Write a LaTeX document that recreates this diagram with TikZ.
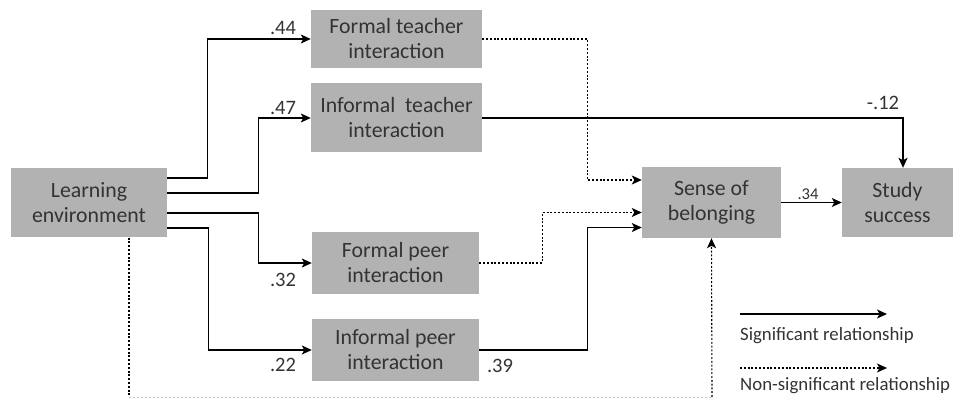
\documentclass[tikz,border=0pt]{standalone}
\usepackage{fontspec}
\setmainfont{Carlito}
\usetikzlibrary{arrows.meta}
\definecolor{boxgray}{HTML}{B2B2B2}
\definecolor{txtgray}{HTML}{333333}
\definecolor{lightdot}{HTML}{C8C8C8}
\begin{document}
\begin{tikzpicture}[x=1pt,y=-1pt,
  box/.style={fill=boxgray, draw=none, inner sep=0pt, align=center, text=txtgray,
    font=\fontsize{21.8}{25}\selectfont},
  lbl/.style={inner sep=0pt, text=txtgray, font=\fontsize{20.5}{23}\selectfont},
  leg/.style={inner sep=0pt, text=txtgray, anchor=west, font=\fontsize{18.8}{21}\selectfont},
  tip/.style={-{Stealth[length=10pt,width=9pt,inset=2.5pt]}},
  sig/.style={line width=1.1pt, black, tip},
  nsig/.style={line width=1.1pt, black, dash pattern=on 2pt off 1.8pt, tip},
  nsline/.style={line width=1.1pt, black, dash pattern=on 2pt off 1.8pt},
  nsfaint/.style={line width=1pt, lightdot, dash pattern=on 2pt off 2pt}]
\useasboundingbox (0,0) rectangle (954,398);

\node[box, minimum width=156pt, minimum height=69pt] (le) at (89,203) {Learning\\environment};
\node[box, minimum width=171pt, minimum height=58pt] (ft) at (396.5,39) {Formal teacher\\interaction};
\node[box, minimum width=171pt, minimum height=69pt] (it) at (396.5,118) {Informal\ \ teacher\\interaction};
\node[box, minimum width=167pt, minimum height=62pt] (fp) at (395.5,263) {Formal peer\\interaction};
\node[box, minimum width=167pt, minimum height=62pt] (ip) at (395.5,350) {Informal peer\\interaction};
\node[box, minimum width=139pt, minimum height=71pt] (sb) at (711.5,202.5) {Sense of\\belonging};
\node[box, minimum width=111pt, minimum height=69pt] (ss) at (897.5,202.5) {Study\\success};

% Learning environment -> four interactions
\draw[sig] ([yshift=25pt]le.east) -- ++(40,0) |- (ft.west);
\draw[sig] ([yshift=10pt]le.east) -- ++(91,0) |- (it.west);
\draw[sig] ([yshift=-10pt]le.east) -- ++(91,0) |- (fp.west);
\draw[sig] ([yshift=-25pt]le.east) -- ++(41,0) |- (ip.west);

% Learning environment -> sense of belonging (non-significant)
\coordinate (c1) at (129,397);
\coordinate (c2) at (712,397);
\draw[nsline] (c1 |- le.south) -- (c1);
\draw[nsfaint] (c1) -- (c2);
\draw[nsig] (c2) -- (sb.south);

% interactions -> sense of belonging / study success
\draw[nsig] (ft.east) -- ++(105,0) |- ([yshift=22.5pt]sb.west);
\draw[sig] (it.east) -| ([xshift=5.5pt]ss.north);
\draw[nsig] (fp.east) -- ++(63,0) |- ([yshift=-10pt]sb.west);
\draw[sig] (ip.east) -- ++(108,0) |- ([yshift=-25pt]sb.west);
\draw[sig] (sb.east) -- (ss.west);

% coefficients
\node[lbl] (l44) at (283,28) {.44};
\node[lbl] (l47) at (283,108) {.47};
\node[lbl] (l32) at (283,280) {.32};
\node[lbl] (l22) at (283,365) {.22};
\node[lbl] (l39) at (500,366) {.39};
\node[lbl] (l12) at (883,103) {-.12};
\node[lbl, font=\fontsize{16.5}{19}\selectfont] (l34) at (808,194) {.34};

% legend
\coordinate (g1) at (740,314);
\coordinate (g2) at (887,314);
\coordinate (g3) at (740,368);
\coordinate (g4) at (887,368);
\draw[sig] (g1) -- (g2);
\draw[nsig] (g3) -- (g4);
\node[leg] (t1) at (740,336) {Significant relationship};
\node[leg] (t2) at (740,386) {Non-significant relationship};
\end{tikzpicture}
\end{document}
